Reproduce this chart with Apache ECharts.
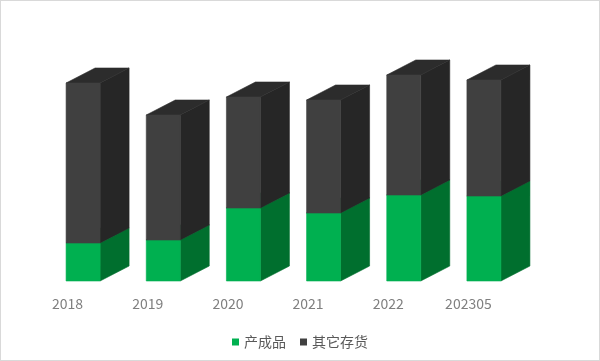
<!DOCTYPE html>
<html>
<head>
<meta charset="utf-8">
<script src="https://cdn.jsdelivr.net/npm/echarts@6/dist/echarts.min.js"></script>
<style>
html,body{margin:0;padding:0;background:#fff;}
#c{width:600px;height:361px;box-sizing:border-box;border:1px solid #d9d9d9;}
</style>
</head>
<body>
<div id="c"></div>
<script>
const categories = ['2018', '2019', '2020', '2021', '2022', '202305'];
const finishedGoods = [38, 41, 73, 68, 86, 85];   // 产成品
const otherInventory = [160, 125, 111, 113, 120, 116]; // 其它存货
const seriesNames = ['产成品', '其它存货'];

const chart = echarts.init(document.getElementById('c'), null, {renderer: 'canvas'});

const FRONT_W = 34, DX = 29, DY = -15;

function face(points, color) {
  return {type: 'polygon', shape: {points: points}, style: {fill: color, stroke: color, lineWidth: 0.6}};
}

function make3D(colors) {
  return function (params, api) {
    const idx = api.value(0);
    const p0 = api.coord([idx, api.value(1)]);
    const p1 = api.coord([idx, api.value(2)]);
    const x0 = p0[0] - FRONT_W / 2, x1 = x0 + FRONT_W;
    const yb = p0[1], yt = p1[1];
    return {
      type: 'group',
      children: [
        face([[x1, yb], [x1 + DX, yb + DY], [x1 + DX, yt + DY], [x1, yt]], colors[1]),
        face([[x0, yt], [x1, yt], [x1 + DX, yt + DY], [x0 + DX, yt + DY]], colors[2]),
        face([[x0, yb], [x1, yb], [x1, yt], [x0, yt]], colors[0])
      ]
    };
  };
}

const greenData = categories.map((c, i) => [i, 0, finishedGoods[i]]);
const darkData = categories.map((c, i) => [i, finishedGoods[i], finishedGoods[i] + otherInventory[i]]);

chart.setOption({
  animation: false,
  backgroundColor: '#ffffff',
  grid: [
    {left: 42, width: 481, top: 60, height: 220},
    {left: 26.5, width: 481, top: 60, height: 220}
  ],
  xAxis: [
    {type: 'category', gridIndex: 0, data: categories, axisLine: {show: false}, axisTick: {show: false}, axisLabel: {show: false}},
    {type: 'category', gridIndex: 1, data: categories, axisLine: {show: false}, axisTick: {show: false},
     axisLabel: {color: '#7f7f7f', fontSize: 14, margin: 16, fontFamily: 'Noto Sans CJK SC'}}
  ],
  yAxis: [
    {type: 'value', gridIndex: 0, min: 0, max: 220, show: false},
    {type: 'value', gridIndex: 1, min: 0, max: 220, show: false}
  ],
  legend: {
    top: 329,
    left: 'center',
    icon: 'rect',
    itemWidth: 7,
    itemHeight: 7,
    itemGap: 14,
    textStyle: {color: '#595959', fontSize: 14, fontFamily: 'Noto Sans CJK SC'},
    data: seriesNames
  },
  series: [
    {name: seriesNames[0], type: 'custom', xAxisIndex: 0, yAxisIndex: 0, itemStyle: {color: '#00B050'},
     renderItem: make3D(['#00B050', '#006F2E', '#00913F']), data: greenData},
    {name: seriesNames[1], type: 'custom', xAxisIndex: 0, yAxisIndex: 0, itemStyle: {color: '#404040'},
     renderItem: make3D(['#404040', '#262626', '#2c2c2c']), data: darkData}
  ]
});
</script>
</body>
</html>
